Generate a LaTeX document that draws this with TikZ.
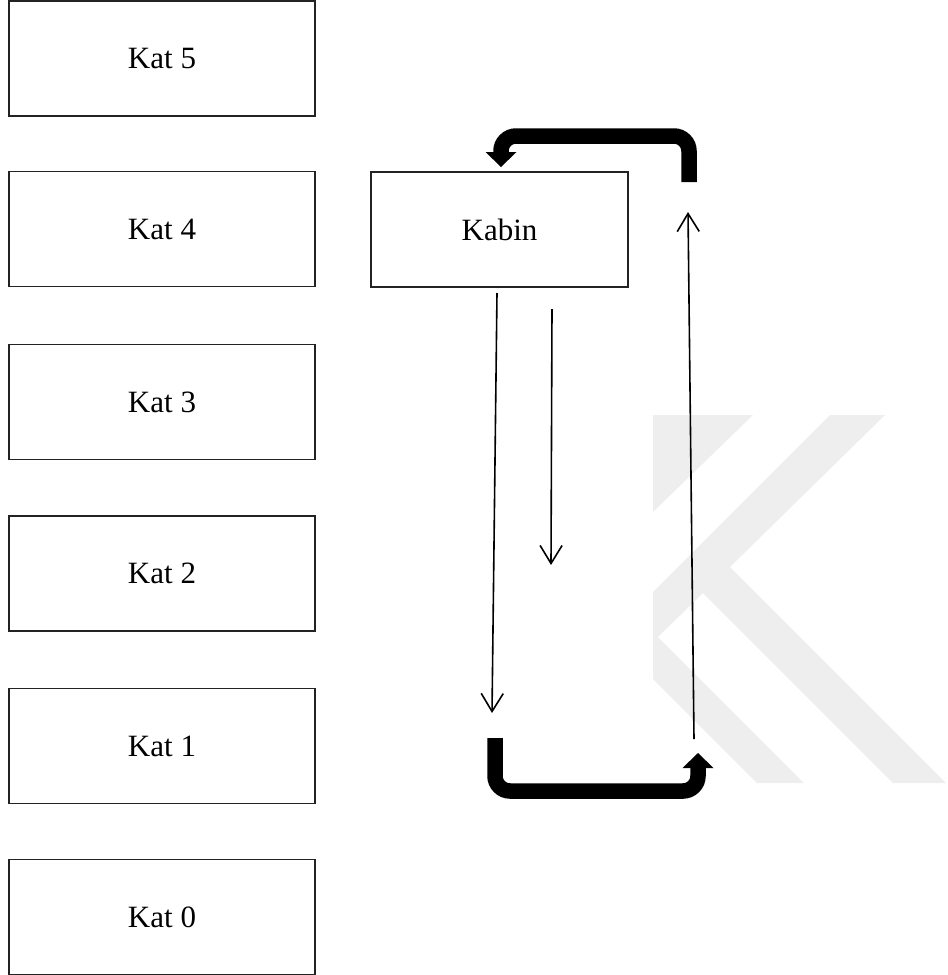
\documentclass[tikz,border=0pt]{standalone}
\usepackage{fontspec}
\setmainfont{Liberation Serif}
\usetikzlibrary{arrows.meta}
\definecolor{markgray}{RGB}{238,238,238}
\definecolor{framegray}{RGB}{35,35,35}
\begin{document}
\begin{tikzpicture}[x=1pt,y=-1pt,
  floorbox/.style={draw=framegray, line width=1.6pt, minimum width=306pt,
    minimum height=115pt, inner sep=0pt, font=\fontsize{31}{37}\selectfont},
  cabinbox/.style={floorbox, minimum width=257pt},
  flow/.style={line width=1.6pt, -{Straight Barb[length=18pt,width=22pt]}},
  bigturn/.style={line width=15.5pt, rounded corners=15pt,
    -{Triangle[length=15pt,width=31pt,line width=0pt]}}]
\useasboundingbox (0,0) rectangle (948,975);

% light background logo
\fill[markgray] (653,415) -- (753,415) -- (653,512) -- cycle;
\fill[markgray] (830,415) -- (885,415) -- (730,567) -- (946,783) -- (893,783)
  -- (703,593) -- (658,637) -- (804,783) -- (757,783) -- (653,679)
  -- (653,592) -- cycle;

% floors
\node[floorbox] (k5) at (162,58.5) {Kat 5};
\node[floorbox] (k4) at (162,229) {Kat 4};
\node[floorbox] (k3) at (162,402) {Kat 3};
\node[floorbox] (k2) at (162,573.5) {Kat 2};
\node[floorbox] (k1) at (162,746) {Kat 1};
\node[floorbox] (k0) at (162,917) {Kat 0};

% cabin
\node[cabinbox] (cab) at (499.5,229.5) {Kabin};

% movement arrows
\coordinate (d1s) at (497,293);
\coordinate (d1e) at (492,713);
\coordinate (d2s) at (552,309);
\coordinate (d2e) at (551,565);
\coordinate (ups) at (694,739);
\coordinate (upe) at (688,212);
\draw[flow] (d1s) -- (d1e);
\draw[flow] (d2s) -- (d2e);
\draw[flow] (ups) -- (upe);

% turning arrows
\coordinate (t1s) at (689,182);
\coordinate (t1e) at (501,167);
\coordinate (b1s) at (495,738);
\coordinate (b1e) at (698,753);
\draw[bigturn] (t1s) |- (501,136) -- (t1e);
\draw[bigturn] (b1s) |- (698,791) -- (b1e);
\end{tikzpicture}
\end{document}
